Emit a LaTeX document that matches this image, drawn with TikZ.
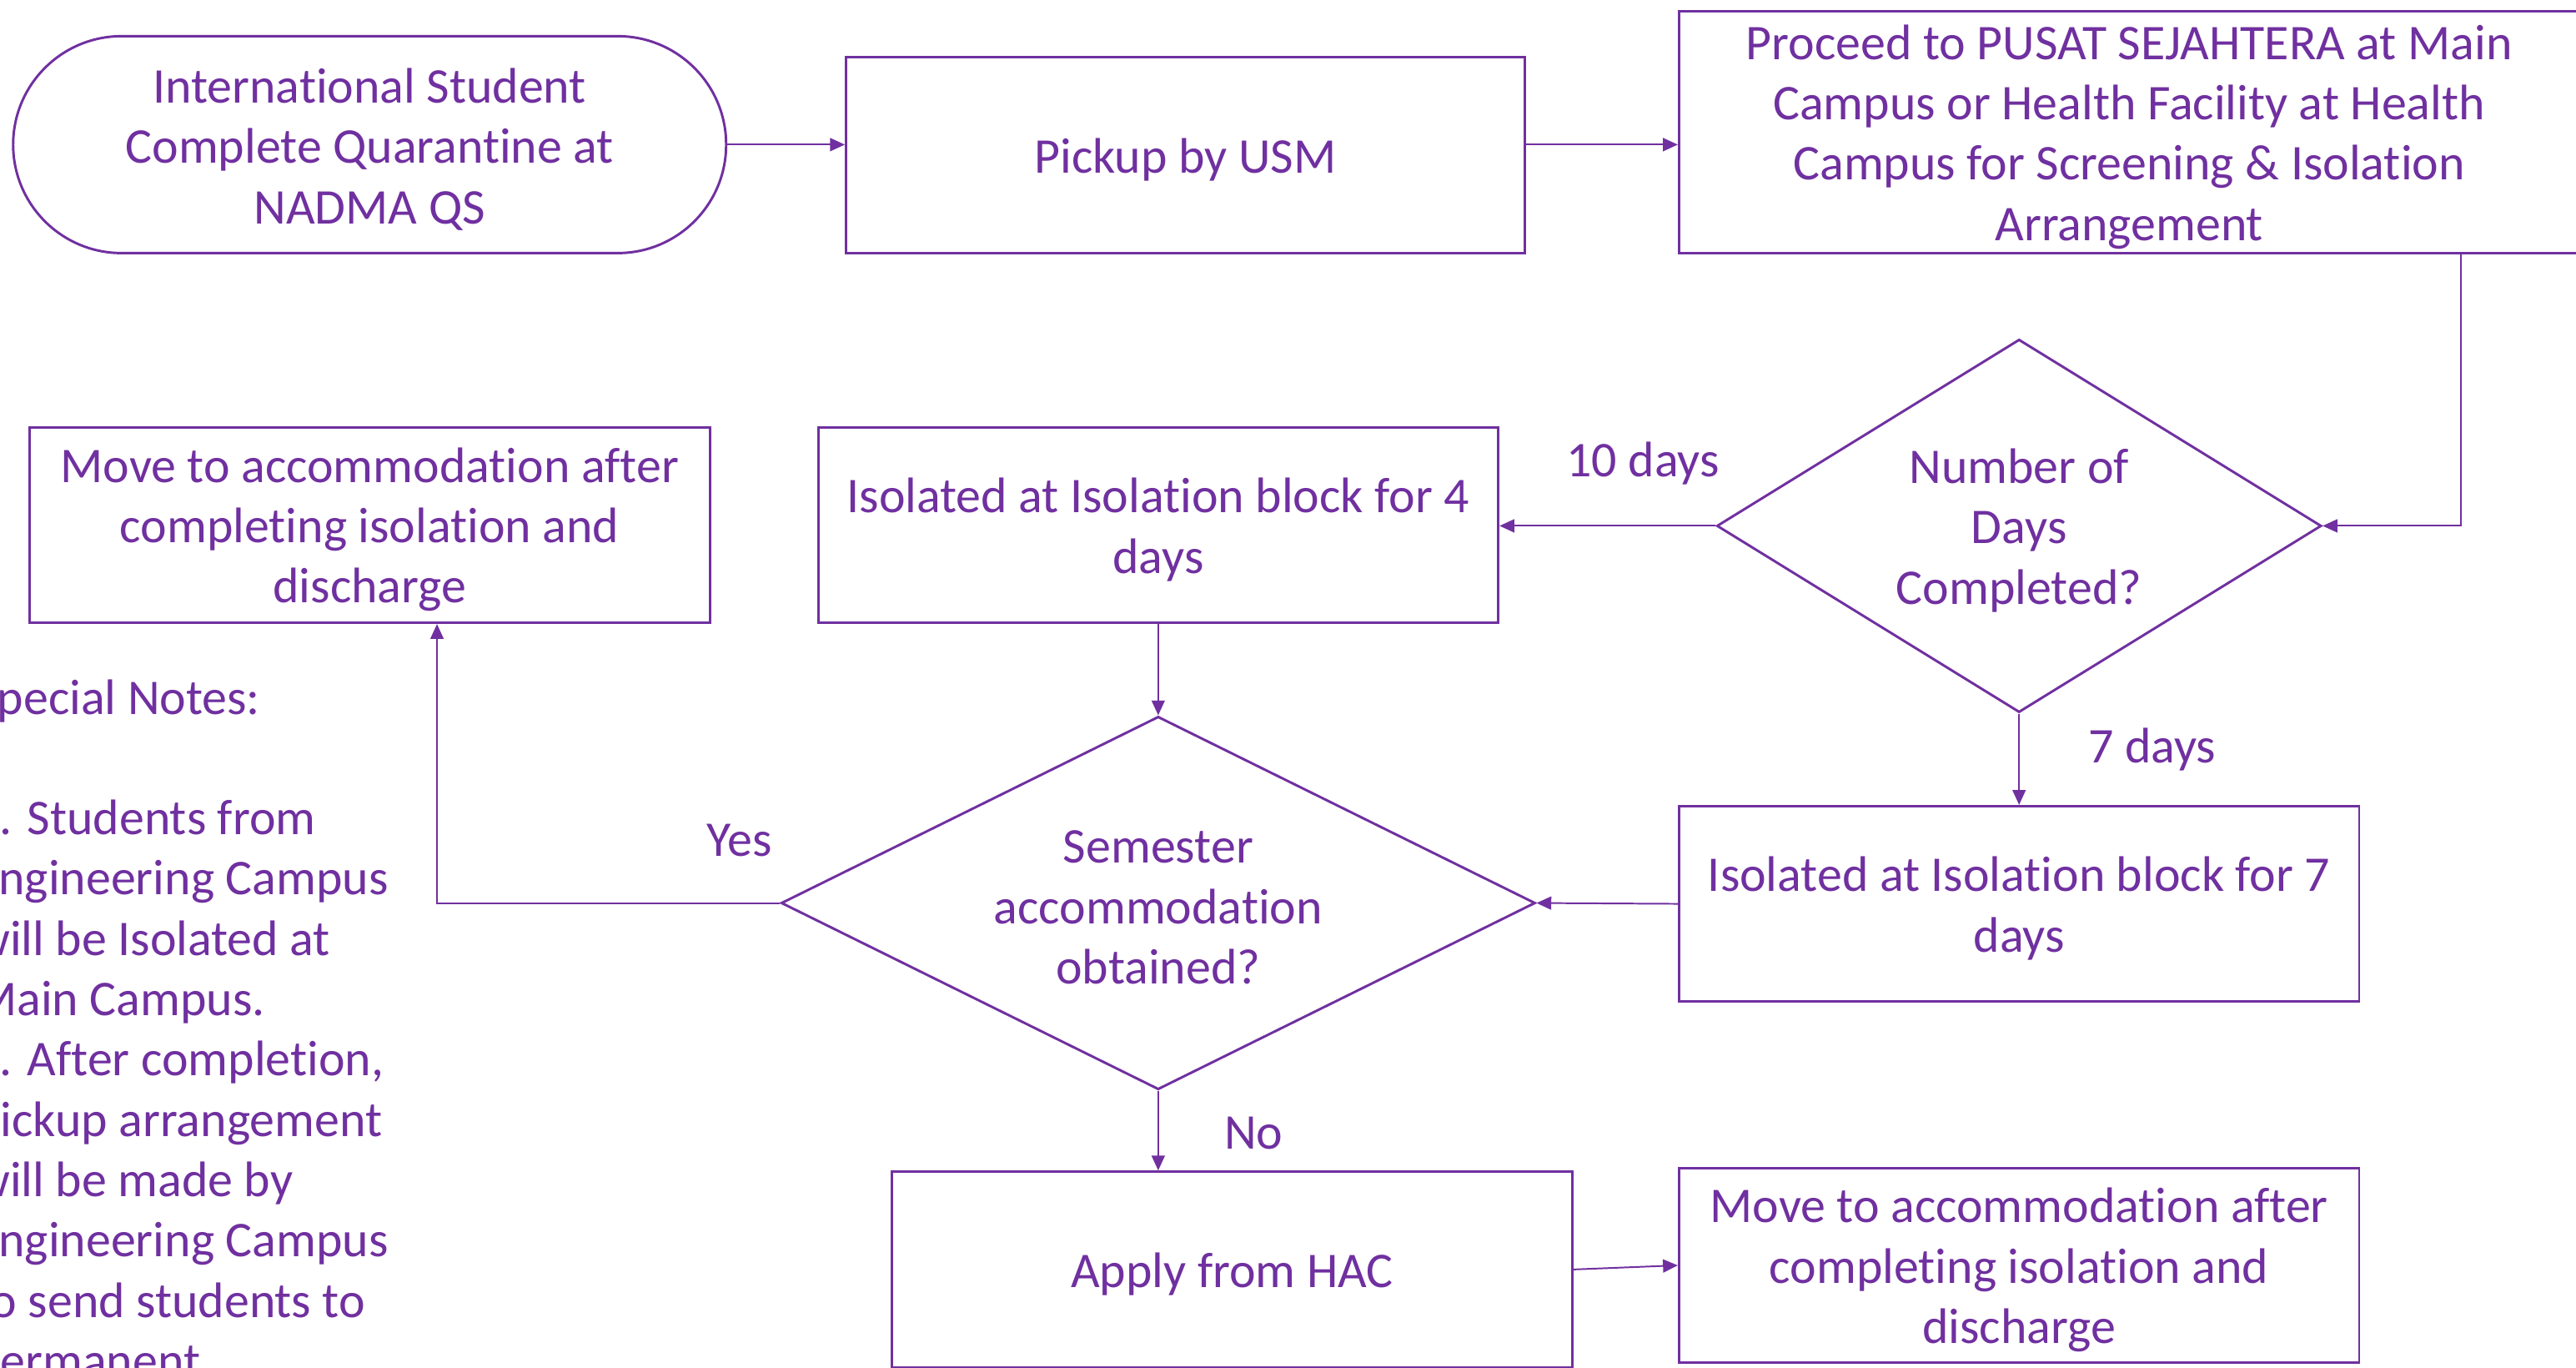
\documentclass[tikz,border=0pt]{standalone}
\usepackage{fontspec}
\setmainfont[Ligatures=NoCommon]{Carlito}
\usetikzlibrary{arrows.meta,shapes.geometric,calc}
\definecolor{pur}{HTML}{7030A0}
\begin{document}
\begin{tikzpicture}[x=0.5pt,y=-0.5pt,
  every node/.style={text=pur, font=\fontsize{15.2pt}{18.35pt}\selectfont},
  box/.style={draw=pur, line width=0.75pt, rectangle, inner sep=0pt},
  dia/.style={draw=pur, line width=0.75pt, diamond, inner sep=0pt},
  txt/.style={label={[align=center, yshift=-1.4pt]center:{#1}}},
  conn/.style={draw=pur, line width=0.5pt, -{Triangle[length=4.5pt,width=4pt]}},
  lab/.style={inner sep=0pt}
]
\useasboundingbox (0,0) rectangle (1568,832);
\fill[white] (0,0) rectangle (1568,832);

\node[box, rounded corners=33pt, minimum width=217pt, minimum height=66pt,
  txt={International Student\\Complete Quarantine at\\NADMA QS}] (start) at (225,88) {};
\node[box, minimum width=206.5pt, minimum height=59.5pt, txt={Pickup by USM}] (pickup) at (721.5,94.5) {};
\node[box, minimum width=274pt, minimum height=73.5pt,
  txt={Proceed to PUSAT SEJAHTERA at Main\\Campus or Health Facility at Health\\Campus for Screening \& Isolation\\Arrangement}] (proceed) at (1296,80.5) {};
\node[dia, minimum width=184pt, minimum height=113.5pt,
  txt={Number of\\Days\\Completed?}] (d1) at (1229,320) {};
\node[box, minimum width=207pt, minimum height=59.5pt,
  txt={Isolated at Isolation block for 4\\days}] (iso4) at (705,319.5) {};
\node[box, minimum width=207pt, minimum height=59.5pt,
  txt={Move to accommodation after\\completing isolation and\\discharge}] (moveL) at (225,319.5) {};
\node[dia, minimum width=229.5pt, minimum height=113.5pt,
  txt={Semester\\accommodation\\obtained?}] (d2) at (705,549.5) {};
\node[box, minimum width=207pt, minimum height=59.5pt,
  txt={Isolated at Isolation block for 7\\days}] (iso7) at (1229,550) {};
\node[box, minimum width=207pt, minimum height=59.5pt, txt={Apply from HAC}] (apply) at (750,772.5) {};
\node[box, minimum width=207pt, minimum height=59pt,
  txt={Move to accommodation after\\completing isolation and\\discharge}] (moveR) at (1229,770) {};

\node[lab, anchor=north west, align=left] (notes) at (-16,413)
  {Special Notes:\\[18.35pt]1. Students from\\Engineering Campus\\will be Isolated at\\Main Campus.\\2. After completion,\\pickup arrangement\\will be made by\\Engineering Campus\\to send students to\\permanent};

\coordinate (c1) at (1498,0);
\coordinate (c2) at (266,0);

\draw[conn] (start.east) -- (start.east -| pickup.west);
\draw[conn] (pickup.east |- start.east) -- (start.east -| proceed.west);
\draw[conn] (proceed.south -| c1) |- (d1.east);
\draw[conn] (d1.west) -- (d1.west -| iso4.east);
\draw[conn] (iso4.south) -- (d2.north);
\draw[conn] (d1.south) -- (iso7.north);
\draw[conn] (iso7.west) -- (d2.east);
\draw[conn] (d2.west) -| (moveL.south -| c2);
\draw[conn] (d2.south) -- (d2.south |- apply.north);
\draw[conn] (apply.east) -- (moveR.west);

\node[lab] (l10) at (1000,282) {10 days};
\node[lab] (l7) at (1310,456) {7 days};
\node[lab] (lyes) at (450,511.5) {Yes};
\node[lab] (lno) at (763,689.5) {No};
\end{tikzpicture}
\end{document}
